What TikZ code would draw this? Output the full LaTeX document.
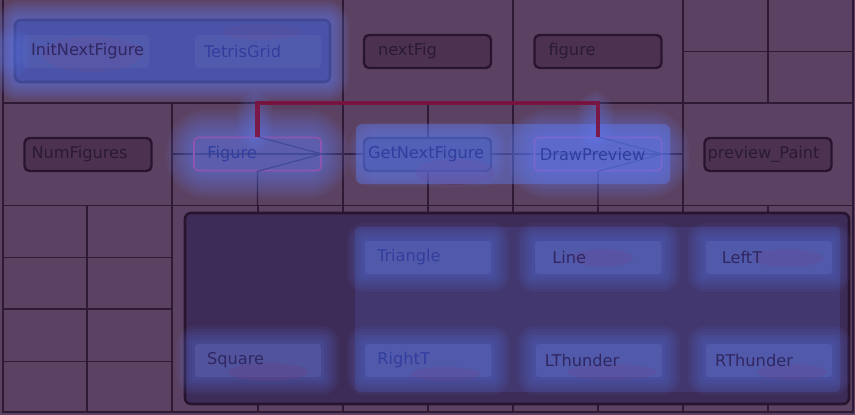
\documentclass[tikz,border=0pt]{standalone}
\usepackage{fontspec}
\setmainfont{DejaVu Sans}
\usetikzlibrary{shapes.geometric, positioning, fit, calc}
\definecolor{heatbg}{RGB}{92,66,98}
\definecolor{gridline}{RGB}{46,26,52}
\definecolor{boxline}{RGB}{40,20,46}
\definecolor{boxfill}{RGB}{76,50,80}
\definecolor{groupfill}{RGB}{62,44,88}
\definecolor{pinkline}{RGB}{190,50,110}
\definecolor{callred}{RGB}{125,18,62}
\definecolor{heatblue}{RGB}{95,130,255}
\definecolor{heatred}{RGB}{110,30,60}
\definecolor{txt}{RGB}{42,26,52}
\definecolor{txtcool}{RGB}{48,38,98}
\definecolor{txthot}{RGB}{50,62,158}
\tikzset{
    cellline/.style={draw=gridline, line width=1.2pt},
    varbox/.style={rectangle, draw=boxline, line width=2.4pt, fill=boxfill,
                   rounded corners=5pt, minimum width=127pt, minimum height=33pt},
    funcbox/.style={rectangle, draw=pinkline, line width=1.6pt,
                    rounded corners=4pt, minimum width=127pt, minimum height=33pt},
    typebox/.style={rectangle, fill=white, fill opacity=0.08, rounded corners=4pt,
                    minimum width=126pt, minimum height=33pt},
    groupbox/.style={rectangle, draw=boxline, line width=2.6pt, fill=groupfill,
                     rounded corners=6pt},
    lbl/.style={inner sep=0pt, text=txt, font=\fontsize{16.2}{19}\selectfont},
    coollbl/.style={lbl, text=txtcool},
    hotlbl/.style={lbl, text=txthot},
    callpath/.style={draw=callred, line width=4.5pt, opacity=0.9},
    glow/.style={fill=heatblue, fill opacity=0.065, draw=none},
    coldspot/.style={ellipse, fill=heatred, fill opacity=0.35, draw=none},
}
\begin{document}
\begin{tikzpicture}[x=1pt, y=-1pt]
    \useasboundingbox[fill=heatbg] (0,0) rectangle (855,415);

    % ── GRID ──
    \coordinate (r2top) at (0,103);
    \coordinate (r2bot) at (0,205.5);
    \draw[cellline] (3,0) -- (3,412) -- (853,412) -- (853,0);
    \draw[cellline] (3,103) -- (853,103);
    \draw[cellline] (3,205.5) -- (853,205.5);
    \foreach \x in {343,513,683,768} \draw[cellline] (\x,0) -- (\x,103);
    \draw[cellline] (683,51.5) -- (853,51.5);
    \foreach \x in {172,343,428,513,683} \draw[cellline] (\x,103) -- (\x,205.5);
    \draw[cellline] (172,154) -- (683,154);
    \foreach \x in {87,172,258,343,428,513,598,683,768} \draw[cellline] (\x,205.5) -- (\x,412);
    \foreach \y in {257.5,309,361.5} \draw[cellline] (3,\y) -- (172,\y);

    % ── TOP ROW ──
    \node[groupbox, minimum width=315pt, minimum height=62pt] (initgrp) at (172.5,51) {};
    \node[typebox] (initbox) at (86,51.5) {};
    \node[typebox] (gridbox) at (258,51.5) {};
    \node[varbox] (nextfig) at (427.5,51.5) {};
    \node[varbox] (figvar) at (598,51.5) {};

    % ── MIDDLE ROW ──
    \node[varbox] (numfig) at (88,154.5) {};
    \node[funcbox] (fig) at (257.5,154) {};
    \node[varbox] (getnext) at (427.5,154.5) {};
    \node[funcbox] (drawprev) at (598,154) {};
    \node[varbox] (prevpaint) at (768,154.5) {};

    \draw[cellline] (fig.north) -- (fig.east) -- (fig.south) -- (fig.south |- r2bot);
    \draw[cellline] (drawprev.north) -- (drawprev.east) -- (drawprev.south) -- (drawprev.south |- r2bot);

    % ── FIGURE TYPES ──
    \node[groupbox, minimum width=664pt, minimum height=191pt] (typegrp) at (517,308.5) {};
    \node[typebox] (tri) at (428,257.5) {};
    \node[typebox, right=44pt of tri] (line) {};
    \node[typebox, right=44pt of line] (leftt) {};
    \node[typebox] (square) at (258,360.5) {};
    \node[typebox, right=44pt of square] (rightt) {};
    \node[typebox, right=44pt of rightt] (lthund) {};
    \node[typebox, right=44pt of lthund] (rthund) {};

    % ── HEAT OVERLAY ──
    \node[coldspot, minimum width=100pt, minimum height=36pt] (cs1) at (92,54) {};
    \node[coldspot, minimum width=80pt, minimum height=16pt] (cs2) at (262,32) {};
    \node[coldspot, minimum width=80pt, minimum height=26pt] (cs3) at (455,172) {};
    \node[coldspot, minimum width=60pt, minimum height=18pt] (cs4) at (603,258) {};
    \node[coldspot, minimum width=70pt, minimum height=18pt] (cs5) at (788,258) {};
    \node[coldspot, minimum width=80pt, minimum height=18pt] (cs6) at (268,372) {};
    \node[coldspot, minimum width=70pt, minimum height=14pt] (cs7) at (445,374) {};
    \node[coldspot, minimum width=90pt, minimum height=16pt] (cs8) at (612,372) {};
    \node[coldspot, minimum width=70pt, minimum height=16pt] (cs9) at (792,372) {};

    \foreach \s [evaluate=\s as \r using \s+6] in {0,2,...,18}
        \node[glow, fit=(initgrp), inner sep=\s pt, rounded corners=\r pt] (gi\s) {};
    \coordinate (lefta) at (0,38);
    \coordinate (leftb) at (18,66);
    \foreach \s [evaluate=\s as \r using \s+10] in {0,3,...,12}
        \node[glow, fit=(lefta)(leftb), inner sep=\s pt, rounded corners=\r pt] (gl\s) {};
    \foreach \s [evaluate=\s as \r using \s+14] in {0,3,...,27}
        \node[glow, fit=(fig), inner sep=\s pt, rounded corners=\r pt] (gf\s) {};
    \coordinate (figup) at (252,106);
    \foreach \s [evaluate=\s as \r using \s+6] in {0,3,...,15}
        \node[glow, fit=(figup)(fig.north), inner sep=\s pt, rounded corners=\r pt] (gu\s) {};
    \coordinate (hla) at (356,124);
    \coordinate (hlb) at (670,184);
    \node[glow, fit=(hla)(hlb), inner sep=0pt, fill opacity=0.4, rounded corners=6pt] (callhl) {};
    \foreach \s [evaluate=\s as \r using \s+14] in {0,3,...,27}
        \node[glow, fit=(drawprev), inner sep=\s pt, rounded corners=\r pt] (gd\s) {};
    \foreach \s [evaluate=\s as \r using \s+14] in {0,3,...,15}
        \node[glow, fit=(getnext), inner sep=\s pt, rounded corners=\r pt] (gg\s) {};
    \coordinate (dpup) at (593,106);
    \foreach \s [evaluate=\s as \r using \s+6] in {0,3,...,15}
        \node[glow, fit=(dpup)(drawprev.north), inner sep=\s pt, rounded corners=\r pt] (gv\s) {};
    \coordinate (tya) at (355,227);
    \coordinate (tyb) at (840,392);
    \node[glow, fit=(tya)(tyb), inner sep=0pt, fill opacity=0.14, rounded corners=4pt] (typehl) {};
    \foreach \n in {tri,line,leftt,square,rightt,lthund,rthund}
        \foreach \s [evaluate=\s as \r using \s+12] in {0,3,...,18}
            \node[glow, fit=(\n), inner sep=\s pt, rounded corners=\r pt] (g\n\s) {};

    % ── LABELS ──
    \node[coollbl, right=8pt of initbox.west] (initlbl) {InitNextFigure};
    \node[hotlbl, right=9pt of gridbox.west] (gridlbl) {TetrisGrid};
    \node[lbl, right=15pt of nextfig.west] (nextfiglbl) {nextFig};
    \node[lbl, right=15pt of figvar.west] (figvarlbl) {figure};
    \node[lbl, right=8pt of numfig.west] (numfiglbl) {NumFigures};
    \node[hotlbl, right=14pt of fig.west] (figlbl) {Figure};
    \node[hotlbl, right=5pt of getnext.west] (getnextlbl) {GetNextFigure};
    \node[hotlbl, right=6pt of drawprev.west] (drawprevlbl) {DrawPreview};
    \node[lbl, right=4pt of prevpaint.west] (prevpaintlbl) {preview\_Paint};
    \node[hotlbl, right=12pt of tri.west] (trilbl) {Triangle};
    \node[coollbl, right=17pt of line.west] (linelbl) {Line};
    \node[coollbl, right=16pt of leftt.west] (lefttlbl) {LeftT};
    \node[coollbl, right=12pt of square.west] (squarelbl) {Square};
    \node[hotlbl, right=12pt of rightt.west] (righttlbl) {RightT};
    \node[coollbl, right=9pt of lthund.west] (lthundlbl) {LThunder};
    \node[coollbl, right=9pt of rthund.west] (rthundlbl) {RThunder};

    % ── CALL PATH ──
    \draw[callpath] (fig.north) -- (fig.north |- r2top) -| (drawprev.north);

\end{tikzpicture}
\end{document}
